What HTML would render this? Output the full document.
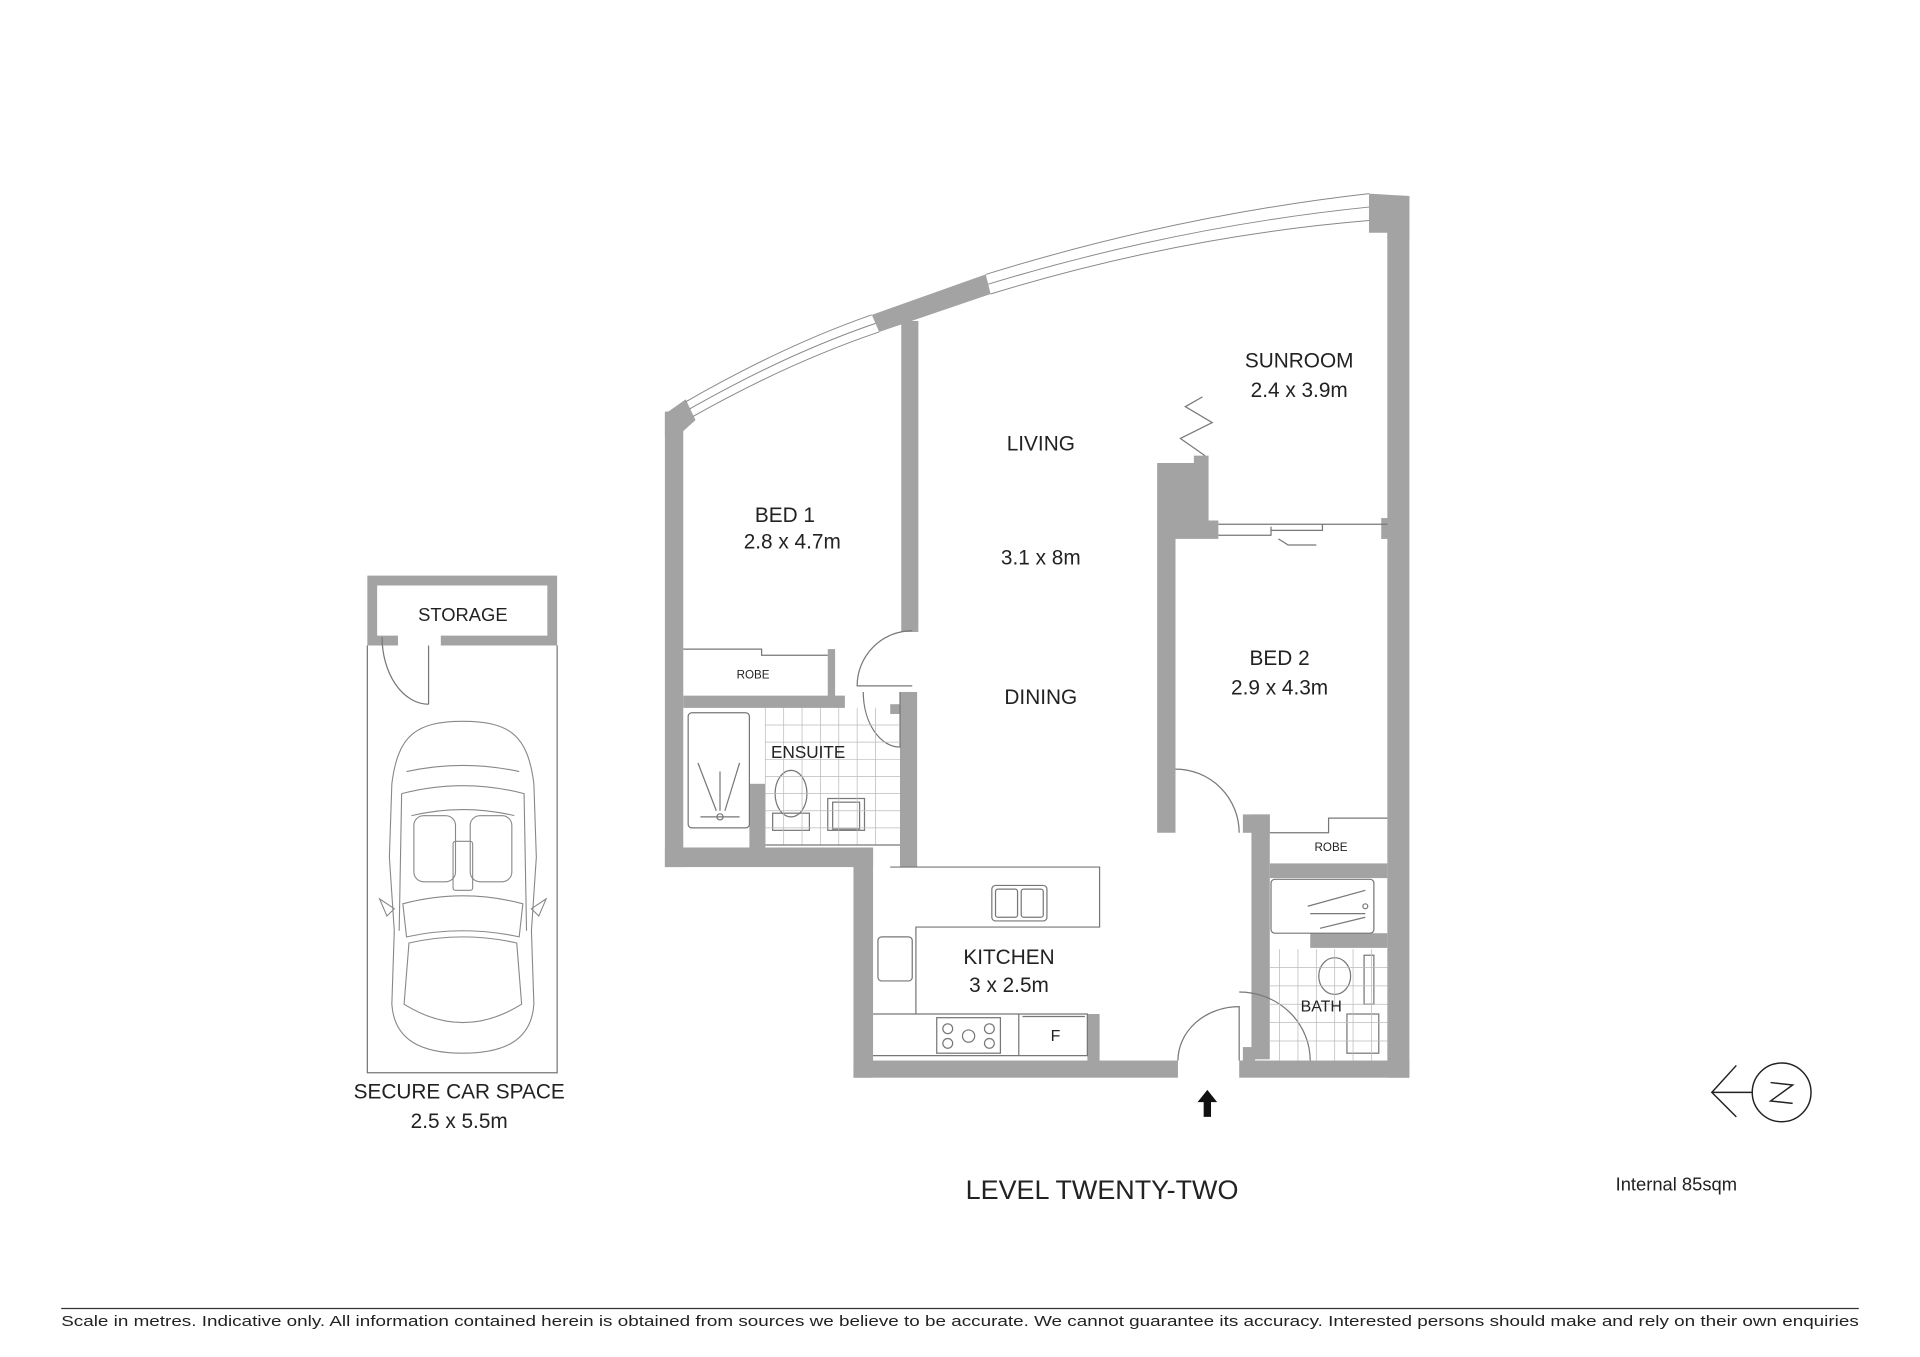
<!DOCTYPE html>
<html><head><meta charset="utf-8"><style>
html,body{margin:0;padding:0;background:#fff;}
svg{display:block}
text{font-family:"Liberation Sans",sans-serif;fill:#222;}
</style></head><body>
<svg width="1920" height="1357" viewBox="0 0 1568 1108" xmlns="http://www.w3.org/2000/svg">
<rect width="1568" height="1108" fill="#fff"/>
<g fill="#a3a3a3" stroke="none">
<rect x="543" y="336" width="15" height="372"/>
<polygon points="543,338 560,326 568,343 558,352 543,355"/>
<polygon points="712,257 805,224 809,240 718,271"/>
<rect x="736" y="262" width="14" height="254"/>
<rect x="543" y="692" width="170" height="16"/>
<rect x="612" y="640" width="13" height="60"/>
<rect x="558" y="568" width="132" height="10"/>
<rect x="676" y="530" width="6" height="40"/>
<rect x="735" y="565" width="14" height="143"/>
<rect x="727" y="575" width="8" height="8"/>
<rect x="697" y="692" width="16" height="188"/>
<rect x="697" y="866" width="265" height="14"/>
<rect x="1012" y="866" width="139" height="14"/>
<rect x="888" y="828" width="10" height="40"/>
<rect x="1133" y="160" width="18" height="720"/>
<polygon points="1118,158 1151,160 1151,195 1133,195 1133,190 1118,190"/>
<rect x="1128" y="423" width="12" height="17"/>
<polygon points="945,378 975,378 975,372 987,372 987,425 995,425 995,440 960,440 960,680 945,680"/>
<rect x="1015" y="665" width="22" height="15"/>
<rect x="1022" y="665" width="15" height="200"/>
<rect x="1037" y="705" width="96" height="12"/>
<rect x="1070" y="762" width="63" height="12"/>
<rect x="1015" y="855" width="10" height="12"/>
<path d="M300 470 H455 V527 H360 V519 H447 V478 H308 V519 H325 V527 H300 Z"/>
</g>
<g fill="none" stroke="#888" stroke-width="0.8">
<path d="M560 328 Q 640 282 712 257"/>
<path d="M566 340 Q 644 296 718 271"/>
<path d="M563 334 Q 642 289 715 264"/>
<path d="M805 224 Q 960 176 1118 158"/>
<path d="M809 240 Q 962 193 1118 180"/>
<path d="M807 232 Q 961 185 1118 169"/>
</g>
<g fill="none" stroke="#777" stroke-width="1">
<path d="M558 530 H622 V535 H676"/>
<path d="M1037 680 H1085 V668 H1133"/>
<path d="M995 428 H1133 M995 437 H1038 V430 M1038 433 H1080 V428"/>
<path d="M1044 440 L1052 445 H1075"/>
<path d="M984 372 L964 358 L990 345 L968 332 L982 324"/>
<path d="M745 515 A45 45 0 0 0 700 560 H745"/>
<path d="M735 565 V610 A30 45 0 0 1 705 565"/>
<path d="M960 628 A52 52 0 0 1 1012 680"/>
<path d="M1012 866 V822 A50 44 0 0 0 962 866"/>
<path d="M1012 810 A58 56 0 0 1 1070 866"/>
<path d="M350 575 A38 55 0 0 1 312 520 M350 527 V575"/>
<rect x="562" y="582" width="50" height="94" rx="3"/>
<path d="M570 623 L585 662 M604 623 L592 662 M588 630 V662 M572 667 H604"/>
<circle cx="588" cy="667" r="2.5"/>
<ellipse cx="646" cy="648" rx="13" ry="19"/>
<rect x="631" y="664" width="30" height="14"/>
<rect x="676" y="652" width="30" height="26"/><rect x="680" y="655" width="22" height="22"/>
<path stroke="#bbb" stroke-width="0.6" d="M625 578 V690 M640 578 V690 M655 578 V690 M670 578 V690 M685 578 V690 M700 578 V690 M715 578 V690 M625 592 H735 M625 606 H735 M625 620 H735 M625 634 H735 M625 648 H735 M625 662 H735 M625 676 H735"/>
<path d="M625 690 H735"/>
<path d="M727 708 H898 V757 H748 V828"/>
<rect x="810" y="723" width="45" height="29" rx="3"/><rect x="813" y="726" width="18" height="23" rx="2"/><rect x="834" y="726" width="18" height="23" rx="2"/>
<rect x="717" y="765" width="28" height="36" rx="3"/>
<path d="M713 828 H888 V862 H713"/>
<path d="M832 828 V862 M835 830 H886"/>
<rect x="765" y="831" width="52" height="29"/>
<circle cx="774" cy="840" r="4"/><circle cx="774" cy="852" r="4"/><circle cx="791" cy="846" r="5"/><circle cx="808" cy="840" r="4"/><circle cx="808" cy="852" r="4"/>
<rect x="1038" y="718" width="84" height="44" rx="3"/>
<path d="M1068 740 L1115 727 M1070 746 H1115 M1078 758 L1115 749"/>
<circle cx="1115" cy="740" r="2"/>
<ellipse cx="1090" cy="797" rx="13" ry="15"/>
<rect x="1114" y="780" width="8" height="40"/>
<rect x="1100" y="828" width="26" height="32"/>
<path stroke="#bbb" stroke-width="0.6" d="M1045 775 V866 M1060 775 V866 M1075 775 V866 M1090 775 V866 M1105 775 V866 M1120 775 V866 M1037 790 H1133 M1037 805 H1133 M1037 820 H1133 M1037 835 H1133 M1037 850 H1133"/>
<path d="M300 527 V876 H455 V527"/>
</g>
<g fill="none" stroke="#888" stroke-width="0.9">
<path d="M378 589 C 340 589 325 600 320 640 L318 700 L322 760 L320 820 C322 850 345 860 378 860 C 411 860 434 850 436 820 L434 760 L438 700 L436 640 C431 600 416 589 378 589 Z"/>
<path d="M332 630 Q378 620 424 630"/>
<path d="M328 648 Q378 635 428 648 L430 760 M328 648 L326 760"/>
<rect x="338" y="666" width="34" height="54" rx="8"/><rect x="384" y="666" width="34" height="54" rx="8"/>
<path d="M336 666 Q378 656 420 666"/>
<rect x="370" y="687" width="16" height="40" rx="2"/>
<path d="M329 738 Q378 725 427 738 L424 765 Q378 755 332 765 Z"/>
<path d="M334 770 Q378 760 422 770 L426 820 Q378 850 330 820 Z"/>
<path d="M322 742 L310 734 L316 748 Z M434 742 L446 734 L440 748 Z"/>
</g>
<path d="M986 890 L994 900 H989 V912 H983 V900 H978 Z" fill="#111"/>
<g fill="none" stroke="#222" stroke-width="1.2">
<circle cx="1455" cy="892" r="24"/>
<path d="M1431 892 H1398 M1418 870 L1398 892 L1418 912"/>
<path d="M1446 884 L1464 886 L1446 899 L1464 901"/>
</g>
<g font-size="17" text-anchor="middle">
<text x="1061" y="300">SUNROOM</text>
<text x="1061" y="324">2.4 x 3.9m</text>
<text x="850" y="368">LIVING</text>
<text x="641" y="426">BED 1</text>
<text x="647" y="448">2.8 x 4.7m</text>
<text x="850" y="461">3.1 x 8m</text>
<text x="1045" y="543">BED 2</text>
<text x="1045" y="567">2.9 x 4.3m</text>
<text x="850" y="575">DINING</text>
<text x="824" y="787">KITCHEN</text>
<text x="824" y="810">3 x 2.5m</text>
<text x="375" y="897">SECURE CAR SPACE</text>
<text x="375" y="921">2.5 x 5.5m</text>
</g>
<text x="660" y="619" font-size="14" text-anchor="middle">ENSUITE</text>
<text x="1079" y="826" font-size="13" text-anchor="middle">BATH</text>
<text x="862" y="850" font-size="13" text-anchor="middle">F</text>
<text x="615" y="554" font-size="9.5" text-anchor="middle">ROBE</text>
<text x="1087" y="695" font-size="9.5" text-anchor="middle">ROBE</text>
<text x="378" y="507" font-size="15" text-anchor="middle">STORAGE</text>
<text x="900" y="979" font-size="22" text-anchor="middle">LEVEL TWENTY-TWO</text>
<text x="1369" y="972" font-size="15" text-anchor="middle">Internal 85sqm</text>
<rect x="50" y="1068" width="1468" height="1" fill="#333"/>
<text x="50" y="1083" font-size="12" textLength="1468" lengthAdjust="spacingAndGlyphs">Scale in metres. Indicative only. All information contained herein is obtained from sources we believe to be accurate. We cannot guarantee its accuracy. Interested persons should make and rely on their own enquiries</text>
</svg>
</body></html>
